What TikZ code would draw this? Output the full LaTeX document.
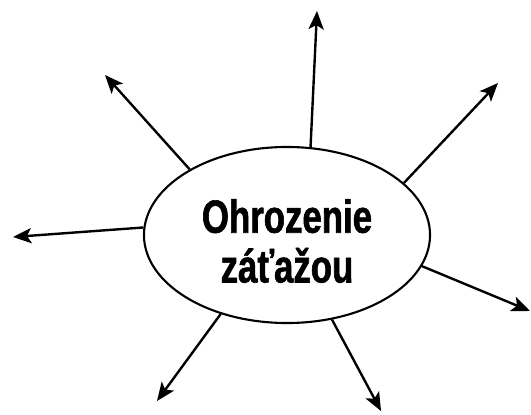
\documentclass[tikz,border=0pt]{standalone}
\usepackage{fontspec}
\setmainfont[FakeStretch=0.75, BoldFeatures={FakeBold=1.3}]{Liberation Sans}
\usetikzlibrary{shapes.geometric}
\usetikzlibrary{arrows.meta}

\begin{document}
\begin{tikzpicture}[x=0.025cm, y=-0.025cm, line width=1.7pt,
  sipka/.style={-{Stealth[length=4.6mm,width=3.8mm,inset=1.1mm]}}]
  \useasboundingbox (0,0) rectangle (531,414);
  \node (zataz) [ellipse, draw, line width=1.5pt, minimum width=7.15cm, minimum height=4.4cm, inner sep=0pt] at (287,235) {};
  \node (nazov) [align=center, font=\bfseries\fontsize{33}{35.4}\selectfont] at (287,241) {Ohrozenie\\záťažou};
  \coordinate (hore) at (317,11);
  \coordinate (vpravohore) at (498,83);
  \coordinate (vpravo) at (530,311);
  \coordinate (vpravodole) at (381,411);
  \coordinate (vlavodole) at (157,401);
  \coordinate (vlavo) at (13,237);
  \coordinate (vlavohore) at (105,75);
  \draw[sipka] (zataz.75.8) to (hore);
  \draw[sipka] (zataz.24.5) to (vpravohore);
  \draw[sipka] (zataz.-13.2) to (vpravo);
  \draw[sipka] (zataz.-62.1) to (vpravodole);
  \draw[sipka] (zataz.-130.5) to (vlavodole);
  \draw[sipka] (zataz.177.6) to (vlavo);
  \draw[sipka] (zataz.146.2) to (vlavohore);
\end{tikzpicture}
\end{document}
